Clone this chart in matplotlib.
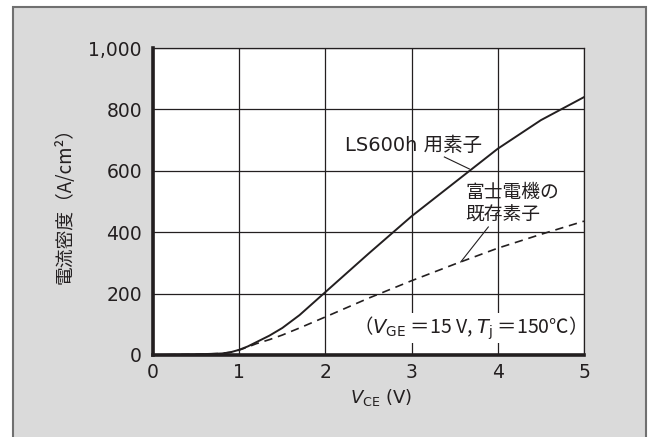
import matplotlib
matplotlib.use('Agg')
import matplotlib.pyplot as plt
from matplotlib.patches import Rectangle

plt.rcParams['font.family'] = ['DejaVu Sans', 'Noto Sans CJK JP']
plt.rcParams['mathtext.fontset'] = 'dejavusans'

# LS600h device (solid)
vce_new = [0.0, 0.5, 0.8, 0.9, 1.0, 1.1, 1.2, 1.35, 1.5, 1.7, 2.0, 2.5, 3.0, 3.5, 4.0, 4.5, 5.0]
j_new = [0, 2, 5, 9, 17, 28, 42, 63, 88, 130, 205, 330, 452, 562, 672, 765, 840]

# existing Fuji device (dashed)
vce_old = [0.0, 0.5, 0.8, 0.9, 1.0, 1.1, 1.2, 1.35, 1.5, 1.7, 2.0, 2.5, 3.0, 3.5, 4.0, 4.5, 5.0]
j_old = [0, 2, 5, 9, 16, 26, 37, 50, 65, 88, 124, 185, 242, 296, 348, 393, 436]

x_ticks = [0, 1, 2, 3, 4, 5]
y_ticks = [0, 200, 400, 600, 800, 1000]
y_ticklabels = ['0', '200', '400', '600', '800', '1,000']

ink = '#231f20'

fig = plt.figure(figsize=(6.48, 4.37), dpi=100)
fig.patch.set_facecolor('white')
# gray panel with frame
fig.patches.append(Rectangle((12.5 / 648, -0.2), 633 / 648, 1.2 - 6.5 / 437,
                             transform=fig.transFigure, facecolor='#dadada',
                             edgecolor='#707070', linewidth=1.5, zorder=-5))

ax = fig.add_axes([153 / 648, 1 - 355 / 437, 431 / 648, 307 / 437])
ax.set_zorder(1)
ax.set_facecolor('white')
ax.set_xlim(0, 5)
ax.set_ylim(0, 1000)
ax.set_xticks(x_ticks)
ax.set_yticks(y_ticks)
ax.set_yticklabels(y_ticklabels)
ax.tick_params(length=0, labelsize=13.5, colors=ink)
ax.tick_params(axis='y', pad=8)
ax.tick_params(axis='x', pad=6)
ax.grid(True, color=ink, linewidth=0.9)
ax.set_axisbelow(True)
for side in ['left', 'bottom']:
    ax.spines[side].set_linewidth(2.6)
    ax.spines[side].set_color(ink)
for side in ['top', 'right']:
    ax.spines[side].set_linewidth(0.9)
    ax.spines[side].set_color(ink)

ax.plot(vce_new, j_new, color=ink, linewidth=1.4, zorder=3)
ax.plot(vce_old, j_old, color=ink, linewidth=1.2, dashes=(5, 3.5), zorder=3)

ax.text(2.23, 684, 'LS600h 用素子', fontsize=14, va='center', ha='left',
        color=ink, family=['DejaVu Sans', 'Noto Sans CJK JP'])
ax.plot([3.38, 3.67], [645, 606], color=ink, linewidth=0.8)

ax.text(3.62, 492, '富士電機の\n既存素子', fontsize=13.5, va='center', ha='left',
        color=ink, linespacing=1.1, family=['Noto Sans CJK JP', 'DejaVu Sans'])
ax.plot([3.89, 3.57], [417, 303], color=ink, linewidth=0.8)

ax.text(4.91, 88, '（$V_{\\mathrm{GE}}$ ＝15 V, $T_{\\mathrm{j}}$ ＝150℃）', fontsize=14,
        ha='right', va='center', color=ink,
        family=['Noto Sans CJK JP', 'DejaVu Sans'],
        bbox=dict(facecolor='white', edgecolor='none', pad=0.5))

ax.set_ylabel('電流密度（A/cm²）', fontsize=13.5, color=ink,
              family=['Noto Sans CJK JP', 'DejaVu Sans'])
ax.yaxis.set_label_coords(-88 / 431, 0.5)
ax.yaxis.label.set_va('center')
ax.set_xlabel('$V_{\\mathrm{CE}}$ (V)', fontsize=13, color=ink)
ax.xaxis.set_label_coords(228 / 431, -42 / 307)
ax.xaxis.label.set_va('center')

fig.savefig('out.png', dpi=100)
